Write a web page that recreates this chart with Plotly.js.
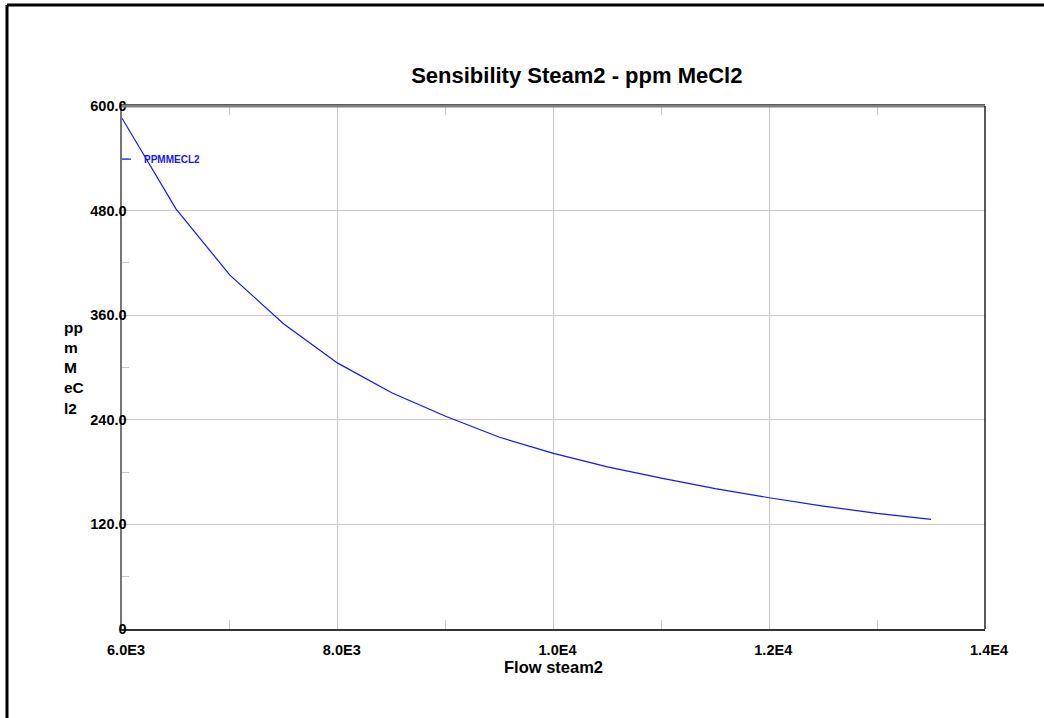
<!DOCTYPE html>
<html>
<head>
<meta charset="utf-8">
<script src="https://cdn.plot.ly/plotly-3.0.1.min.js"></script>
<style>
html, body { margin: 0; padding: 0; background: #ffffff; }
#chart { width: 1044px; height: 718px; }
</style>
</head>
<body>
<div id="chart"></div>
<script>
// Data
const flowSteam2 = [6000, 6500, 7000, 7500, 8000, 8500, 9000, 9500, 10000, 10500, 11000, 11500, 12000, 12500, 13000, 13500];
const ppmMeCl2 = [586, 482, 406, 350, 305, 271, 244, 220, 201.5, 186, 173, 161, 150.6, 141, 132.7, 125.8];

const xTickVals = [6000, 8000, 10000, 12000, 14000];
const xTickText = ["6.0E3", "8.0E3", "1.0E4", "1.2E4", "1.4E4"];
const xMinorVals = [7000, 9000, 11000, 13000];
const yTickVals = [0, 120, 240, 360, 480, 600];
const yTickText = ["0", "120.0", "240.0", "360.0", "480.0", "600.0"];
const yMinorVals = [60, 180, 300, 420, 540];

const seriesName = "PPMMECL2";
const legendY = 539;

const FONT = "Liberation Sans, Arial, Helvetica, sans-serif";

const trace = {
  x: flowSteam2,
  y: ppmMeCl2,
  type: "scatter",
  mode: "lines",
  name: seriesName,
  line: { color: "#1414ff", width: 1.2 },
  showlegend: false,
  hoverinfo: "x+y"
};

const layout = {
  width: 1044,
  height: 718,
  margin: { l: 122, r: 59, t: 106, b: 89, pad: 0 },
  paper_bgcolor: "#ffffff",
  plot_bgcolor: "#ffffff",
  font: { family: FONT, color: "#000000" },
  showlegend: false,
  title: {
    text: "<b>Sensibility Steam2 - ppm MeCl2</b>",
    font: { family: FONT, size: 22, color: "#000000" },
    xref: "paper", x: 0.527, xanchor: "center",
    yref: "container", y: 1 - 75 / 718, yanchor: "middle"
  },
  xaxis: {
    range: [6000, 14000],
    tickmode: "array",
    tickvals: xTickVals,
    ticktext: xTickText,
    ticks: "",
    ticklabelstandoff: 7,
    ticklabelshift: 4,
    tickfont: { family: FONT, size: 14.5, color: "#000000", weight: "bold" },
    showgrid: true,
    gridcolor: "#c8c8c8",
    gridwidth: 1,
    zeroline: false,
    showline: true,
    linecolor: "#333333",
    linewidth: 2,
    mirror: "ticks",
    minor: {
      tickmode: "array",
      tickvals: xMinorVals,
      ticks: "inside",
      ticklen: 9,
      tickcolor: "#c8c8c8",
      tickwidth: 1,
      showgrid: false
    },
    title: {
      text: "<b>Flow steam2</b>",
      font: { family: FONT, size: 16.5, color: "#000000" },
      standoff: 4
    },
    fixedrange: true
  },
  yaxis: {
    range: [0, 600],
    tickmode: "array",
    tickvals: yTickVals,
    ticktext: yTickText,
    ticks: "",
    ticklabelstandoff: -10,
    tickfont: { family: FONT, size: 14.5, color: "#000000", weight: "bold" },
    showgrid: true,
    gridcolor: "#c8c8c8",
    gridwidth: 1,
    zeroline: false,
    showline: true,
    linecolor: "#777777",
    linewidth: 2.5,
    mirror: false,
    minor: {
      tickmode: "array",
      tickvals: yMinorVals,
      ticks: "inside",
      ticklen: 7,
      tickcolor: "#c8c8c8",
      tickwidth: 1,
      showgrid: false
    },
    fixedrange: true
  },
  annotations: [
    {
      text: "<b>pp<br>m<br>M<br>eC<br>l2</b>",
      xref: "paper", yref: "paper",
      x: (62 - 122) / 863, y: (629 - 368) / 523,
      xanchor: "left", yanchor: "middle", align: "left",
      showarrow: false,
      font: { family: FONT, size: 15.5, color: "#000000" }
    },
    {
      text: "<b>" + seriesName + "</b>",
      xref: "paper", yref: "y",
      x: (142 - 122) / 863, y: legendY,
      xanchor: "left", yanchor: "middle",
      showarrow: false,
      font: { family: FONT, size: 10, color: "#1414ff" }
    }
  ],
  shapes: [
    // legend sample line
    { type: "line", xref: "paper", yref: "y", x0: 0, x1: 9 / 863, y0: legendY, y1: legendY,
      line: { color: "#1414ff", width: 1.2 } },
    // top frame line (gray)
    { type: "line", xref: "paper", yref: "paper", x0: 0, x1: 1, y0: 1, y1: 1,
      line: { color: "#808080", width: 3 }, layer: "above" },
    // right frame line (black)
    { type: "line", xref: "paper", yref: "paper", x0: 1, x1: 1, y0: 0, y1: 1,
      line: { color: "#000000", width: 1.3 }, layer: "above" },
    // outer page border (top and left)
    { type: "line", xref: "paper", yref: "paper", x0: (7 - 122) / 863, x1: 1.2, y0: (629 - 5) / 523, y1: (629 - 5) / 523,
      line: { color: "#000000", width: 3 } },
    { type: "line", xref: "paper", yref: "paper", x0: (7 - 122) / 863, x1: (7 - 122) / 863, y0: -0.3, y1: (629 - 5) / 523,
      line: { color: "#000000", width: 3 } }
  ]
};

Plotly.newPlot("chart", [trace], layout, { displayModeBar: false, staticPlot: true });
</script>
</body>
</html>
